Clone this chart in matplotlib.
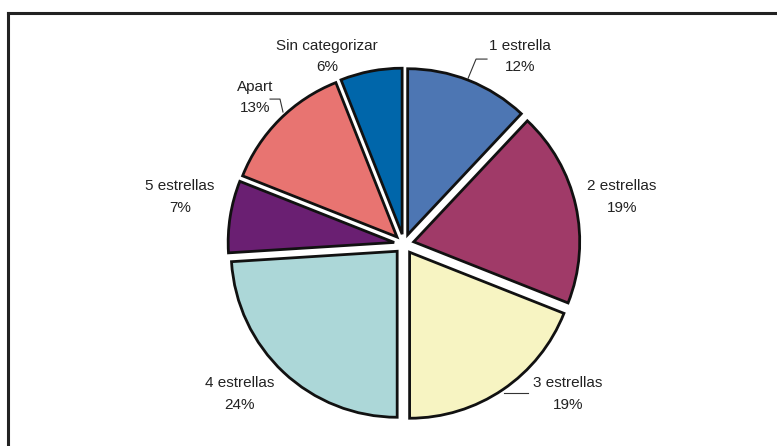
import matplotlib
matplotlib.use("Agg")
import numpy as np
import matplotlib.pyplot as plt
from matplotlib.lines import Line2D

# Data
categories = ['1 estrella', '2 estrellas', '3 estrellas', '4 estrellas',
              '5 estrellas', 'Apart', 'Sin categorizar']
shares = [12, 19, 19, 24, 7, 13, 6]
colors = ['#4d76b3', '#a03a68', '#f7f4c2', '#acd7d8',
          '#6a1f72', '#e87471', '#0066aa']

# label centres and leader lines, in pie-radius units
label_pos = [(0.70, 1.127), (1.313, 0.283), (0.988, -0.904), (-0.988, -0.904),
             (-1.349, 0.283), (-0.898, 0.880), (-0.464, 1.127)]
leaders = {
    0: [(0.500, 1.114), (0.434, 1.114), (0.386, 0.998)],
    2: [(0.747, -0.898), (0.602, -0.898)],
    5: [(-0.807, 0.873), (-0.747, 0.873), (-0.729, 0.795)],
}

W, H = 777, 446
cx, cy, R = 404, 244, 166  # pie centre / radius in pixels

fig = plt.figure(figsize=(W / 100, H / 100), dpi=100)
ax = fig.add_axes([0, 0, 1, 1])

wedges, _ = ax.pie(shares, colors=colors, startangle=90, counterclock=False,
                   explode=[0.06] * len(shares),
                   wedgeprops=dict(edgecolor='#111111', linewidth=2.0))

# pie() resets the limits, so set them afterwards
ax.set_xlim(-cx / R, (W - cx) / R)
ax.set_ylim(-(H - cy) / R, cy / R)
ax.set_aspect('auto')
ax.axis('off')

for i, (cat, val) in enumerate(zip(categories, shares)):
    x, y = label_pos[i]
    ax.text(x, y, f"{cat}\n{val}%", ha='center', va='center',
            fontsize=11, family='Liberation Sans', color='#222222',
            linespacing=1.65)

for pts in leaders.values():
    xs, ys = zip(*pts)
    ax.plot(xs, ys, color='#333333', linewidth=0.8)

# frame
fig.add_artist(Line2D([8 / W, 8 / W], [0, 1 - 13 / H], transform=fig.transFigure,
                      color='#222222', linewidth=2.2))
fig.add_artist(Line2D([8 / W, 1], [1 - 13 / H, 1 - 13 / H], transform=fig.transFigure,
                      color='#222222', linewidth=2.2))

fig.savefig('out.png', dpi=100)
